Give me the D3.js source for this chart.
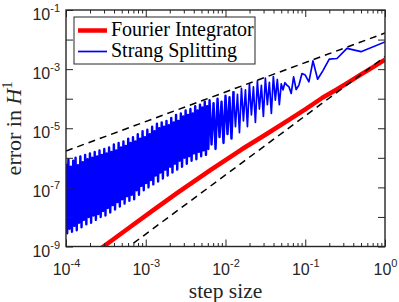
<!DOCTYPE html>
<html>
<head>
<meta charset="utf-8">
<script src="https://cdn.jsdelivr.net/npm/d3@7"></script>
<style>
body { margin: 0; background: #fff; }
svg { display: block; }
</style>
</head>
<body>
<div id="chart"></div>
<script>
// values are [log10(step size), log10(error)]
const fourierLog = [
  [-4.0, -9.95], [-3.53, -9.0], [-3.2, -8.35], [-2.91, -7.78], [-2.6, -7.18],
  [-2.19, -6.42], [-1.8, -5.72], [-1.5, -5.22], [-1.23, -4.76], [-1.0, -4.36],
  [-0.78, -3.96], [-0.6, -3.68], [-0.48, -3.48], [-0.3, -3.18], [-0.15, -2.93], [0, -2.68]
];

const strangLog = [
  [-4.000,-6.20],[-3.985,-8.55],[-3.970,-6.05],[-3.955,-8.40],[-3.940,-6.30],[-3.925,-8.50],
  [-3.910,-6.10],[-3.895,-8.30],[-3.880,-6.00],[-3.865,-8.45],[-3.850,-6.25],[-3.835,-8.20],
  [-3.820,-5.95],[-3.805,-8.35],[-3.790,-6.15],[-3.775,-8.10],[-3.760,-5.90],[-3.745,-8.25],
  [-3.730,-6.05],[-3.715,-8.00],[-3.700,-5.85],[-3.685,-8.20],[-3.670,-6.00],[-3.655,-7.95],
  [-3.640,-5.80],[-3.625,-8.10],[-3.610,-5.95],
  [-3.595,-7.90],[-3.580,-5.75],[-3.565,-8.00],[-3.550,-5.90],[-3.535,-7.80],[-3.520,-5.70],
  [-3.505,-7.95],[-3.490,-5.85],[-3.475,-7.70],[-3.460,-5.65],[-3.445,-7.85],[-3.430,-5.80],
  [-3.415,-7.60],[-3.400,-5.55],[-3.385,-7.75],[-3.370,-5.75],[-3.355,-7.50],[-3.340,-5.50],
  [-3.325,-7.65],[-3.310,-5.65],[-3.295,-7.40],[-3.280,-5.45],[-3.265,-7.55],[-3.250,-5.60],
  [-3.235,-7.30],[-3.220,-5.35],[-3.205,-7.45],
  [-3.190,-5.50],[-3.175,-7.25],[-3.160,-5.30],[-3.145,-7.40],[-3.130,-5.45],[-3.115,-7.10],
  [-3.100,-5.20],[-3.085,-7.25],[-3.070,-5.35],[-3.055,-6.95],[-3.040,-5.10],[-3.025,-7.10],
  [-3.010,-5.30],[-2.995,-6.85],[-2.980,-5.05],[-2.965,-7.00],[-2.950,-5.20],[-2.935,-6.75],
  [-2.920,-4.95],[-2.905,-6.90],[-2.890,-5.10],[-2.875,-6.60],[-2.860,-4.85],[-2.845,-6.80],
  [-2.830,-5.00],[-2.815,-6.50],[-2.800,-4.80],
  [-2.785,-6.70],[-2.770,-4.95],[-2.755,-6.40],[-2.740,-4.75],[-2.725,-6.60],[-2.710,-4.90],
  [-2.695,-6.30],[-2.680,-4.65],[-2.665,-6.50],[-2.650,-4.80],[-2.635,-6.20],[-2.620,-4.55],
  [-2.605,-6.40],[-2.590,-4.75],[-2.575,-6.10],[-2.560,-4.50],[-2.545,-6.30],[-2.530,-4.60],
  [-2.515,-6.00],[-2.500,-4.40],[-2.485,-6.20],[-2.470,-4.55],[-2.455,-5.95],[-2.440,-4.35],
  [-2.425,-6.10],[-2.410,-4.50],[-2.395,-5.85],[-2.380,-4.25],[-2.365,-6.05],[-2.350,-4.40],
  [-2.335,-5.80],[-2.320,-4.20],[-2.305,-5.95],[-2.290,-4.30],[-2.275,-5.75],[-2.260,-4.10],
  [-2.245,-5.90],[-2.230,-4.25],[-2.215,-5.70],[-2.200,-4.05],
  [-2.175,-5.55],[-2.150,-4.15],[-2.125,-5.70],[-2.100,-4.00],[-2.075,-5.30],[-2.050,-4.10],
  [-2.025,-5.50],[-2.000,-3.90],[-1.975,-5.20],[-1.950,-3.95],[-1.925,-5.35],[-1.900,-3.75],
  [-1.875,-4.95],[-1.850,-3.85],[-1.825,-5.15],[-1.800,-3.65],[-1.775,-4.75],[-1.750,-3.70],
  [-1.725,-4.95],[-1.700,-3.50],[-1.675,-4.55],[-1.650,-3.60],[-1.625,-4.80],[-1.600,-3.40],
  [-1.575,-4.35],[-1.550,-3.55],[-1.525,-4.60],[-1.500,-3.30],[-1.475,-4.20],[-1.450,-3.45],
  [-1.425,-4.50],[-1.400,-3.25],[-1.375,-4.05],[-1.350,-3.35],[-1.325,-4.20],
  [-1.301,-3.50],[-1.279,-3.70],[-1.255,-3.46],[-1.230,-3.54],[-1.204,-3.60],[-1.176,-3.82],
  [-1.146,-3.26],[-1.114,-3.69],[-1.079,-3.54],[-1.041,-3.15],[-1.000,-3.20],[-0.954,-3.43],
  [-0.903,-2.72],[-0.845,-3.34],[-0.778,-3.05],[-0.699,-2.66],[-0.602,-2.64],[-0.477,-2.30],
  [-0.301,-2.41],[0,-2.08]
];

// dashed reference slopes, end points [step size, error]
const orderOneRef = [[1e-4, 1.7e-6], [1, 1.66e-2]];
const orderTwoRef = [[1e-4, 2.63e-11], [1, 2.63e-3]];

const xTicks = [1e-4, 1e-3, 1e-2, 1e-1, 1];
const yTicks = [1e-9, 1e-8, 1e-7, 1e-6, 1e-5, 1e-4, 1e-3, 1e-2, 1e-1];
const yLabelled = [1e-9, 1e-7, 1e-5, 1e-3, 1e-1];
const legendNames = ["Fourier Integrator", "Strang Splitting"];
const legendColors = ["#ff0000", "#0000ff"];

const width = 399, height = 302;
const margin = {left: 66, top: 10, right: 14, bottom: 55.5};
const axisColor = "#262626";
const sansFont = "'Liberation Sans', Arial, Helvetica, sans-serif";
const serifFont = "'Liberation Serif', 'Times New Roman', serif";

var x = d3.scaleLog()
    .domain([1e-4, 1])
    .range([margin.left, width - margin.right]);

var y = d3.scaleLog()
    .domain([1e-9, 1e-1])
    .range([height - margin.bottom, margin.top]);

var svg = d3.select("#chart").append("svg")
    .attr("width", width)
    .attr("height", height);

svg.append("rect").attr("width", width).attr("height", height).attr("fill", "#fff");

svg.append("clipPath").attr("id", "plotClip")
  .append("rect")
    .attr("x", margin.left)
    .attr("y", margin.top)
    .attr("width", width - margin.left - margin.right)
    .attr("height", height - margin.top - margin.bottom);

var plot = svg.append("g").attr("clip-path", "url(#plotClip)");

var lineLog = d3.line()
    .x(d => x(Math.pow(10, d[0])))
    .y(d => y(Math.pow(10, d[1])));

var lineRaw = d3.line()
    .x(d => x(d[0]))
    .y(d => y(d[1]));

// the small-step end is so dense that it reads as a filled band
plot.append("path")
    .datum(strangLog.filter(d => d[0] <= -1.9))
    .attr("d", lineLog)
    .attr("fill", "none")
    .attr("stroke", legendColors[1])
    .attr("stroke-width", 2.4)
    .attr("stroke-linejoin", "round");

plot.append("path")
    .datum(strangLog.filter(d => d[0] >= -1.9))
    .attr("d", lineLog)
    .attr("fill", "none")
    .attr("stroke", legendColors[1])
    .attr("stroke-width", 1.7)
    .attr("stroke-linejoin", "round");

plot.append("path")
    .datum(fourierLog)
    .attr("d", lineLog)
    .attr("fill", "none")
    .attr("stroke", legendColors[0])
    .attr("stroke-width", 4.5)
    .attr("stroke-linejoin", "round");

[orderOneRef, orderTwoRef].forEach(ref => {
  plot.append("path")
      .datum(ref)
      .attr("d", lineRaw)
      .attr("fill", "none")
      .attr("stroke", "#000")
      .attr("stroke-width", 1.5)
      .attr("stroke-dasharray", "7,5");
});

// axes: ticks point inward on all four sides
var xMinor = x.ticks().filter(t => xTicks.indexOf(t) === -1);

function drawAxis(axisFn, scale, values, size, transform) {
  var g = svg.append("g")
      .attr("transform", transform)
      .call(axisFn(scale).tickValues(values).tickSize(size).tickSizeOuter(0).tickFormat(""));
  g.select(".domain").remove();
  g.selectAll(".tick line").attr("stroke", axisColor).attr("stroke-width", 1);
  return g;
}

var yBottom = height - margin.bottom;
var xRight = width - margin.right;

var xAxisG = drawAxis(d3.axisBottom, x, xTicks, -7, `translate(0, ${yBottom})`);
drawAxis(d3.axisBottom, x, xMinor, -3.5, `translate(0, ${yBottom})`);
drawAxis(d3.axisTop, x, xTicks, -7, `translate(0, ${margin.top})`);
drawAxis(d3.axisTop, x, xMinor, -3.5, `translate(0, ${margin.top})`);
var yAxisG = drawAxis(d3.axisLeft, y, yTicks, -7, `translate(${margin.left}, 0)`);
drawAxis(d3.axisRight, y, yTicks, -7, `translate(${xRight}, 0)`);

function powerLabel(sel, v, supShift) {
  sel.text("10");
  sel.append("tspan")
      .attr("dy", supShift)
      .attr("font-size", 11)
      .text(Math.round(Math.log10(v)));
}

xAxisG.selectAll(".tick text")
    .attr("y", 28.5)
    .attr("dy", 0)
    .attr("fill", axisColor)
    .attr("font-family", sansFont)
    .attr("font-size", 16)
    .attr("text-anchor", "middle")
    .each(function(d) { powerLabel(d3.select(this), d, -8); });

yAxisG.selectAll(".tick text")
    .attr("x", -6)
    .attr("y", 9.5)
    .attr("dy", 0)
    .attr("fill", axisColor)
    .attr("font-family", sansFont)
    .attr("font-size", 16)
    .attr("text-anchor", "end")
    .each(function(d) {
      if (yLabelled.indexOf(d) === -1) { d3.select(this).remove(); return; }
      powerLabel(d3.select(this), d, -8);
    });

// frame
svg.append("rect")
    .attr("x", margin.left)
    .attr("y", margin.top)
    .attr("width", xRight - margin.left)
    .attr("height", yBottom - margin.top)
    .attr("fill", "none")
    .attr("stroke", axisColor)
    .attr("stroke-width", 1.4);

// axis titles
svg.append("text")
    .attr("x", (margin.left + xRight) / 2)
    .attr("y", 298)
    .attr("text-anchor", "middle")
    .attr("font-family", serifFont)
    .attr("font-size", 21.5)
    .attr("fill", axisColor)
    .text("step size");

var yTitle = svg.append("text")
    .attr("transform", `translate(21, ${(margin.top + yBottom) / 2}) rotate(-90)`)
    .attr("text-anchor", "middle")
    .attr("font-family", serifFont)
    .attr("font-size", 22)
    .attr("fill", axisColor)
    .text("error in ");
yTitle.append("tspan").attr("font-style", "italic").text("H");
yTitle.append("tspan").attr("dy", -9).attr("font-size", 15).text("1");

// legend
var legend = svg.append("g");
legend.append("rect")
    .attr("x", 74).attr("y", 17)
    .attr("width", 181).attr("height", 47)
    .attr("fill", "#fff")
    .attr("stroke", axisColor)
    .attr("stroke-width", 1);

legendNames.forEach((name, i) => {
  var ly = 30.5 + i * 21;
  legend.append("line")
      .attr("x1", 78).attr("x2", 107)
      .attr("y1", ly).attr("y2", ly)
      .attr("stroke", legendColors[i])
      .attr("stroke-width", i === 0 ? 4.5 : 1.7);
  legend.append("text")
      .attr("x", 111)
      .attr("y", ly + 5)
      .attr("font-family", serifFont)
      .attr("font-size", 20)
      .attr("fill", "#000")
      .text(name);
});
</script>
</body>
</html>
